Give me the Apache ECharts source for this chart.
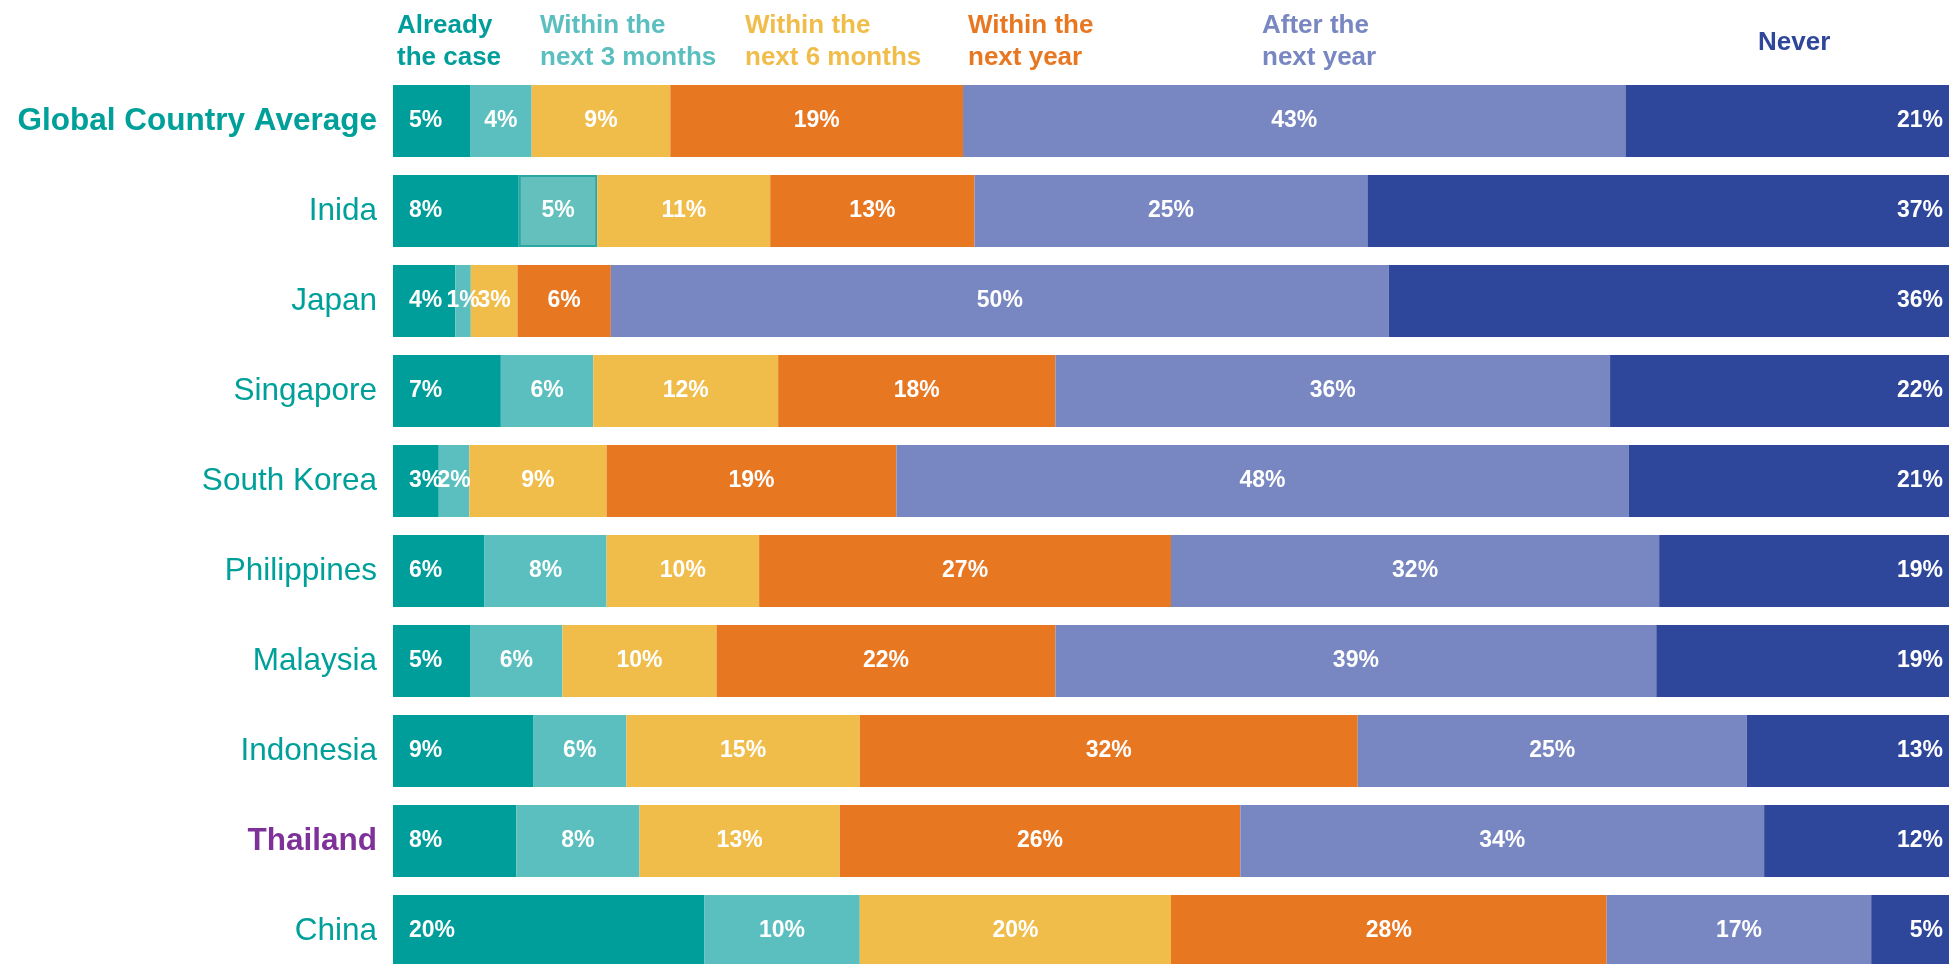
<!DOCTYPE html>
<html>
<head>
<meta charset="utf-8">
<script src="https://cdn.jsdelivr.net/npm/echarts@6/dist/echarts.min.js"></script>
<style>
  html, body { margin: 0; padding: 0; background: #ffffff; }
  #chart { width: 1949px; height: 964px; }
</style>
</head>
<body>
<div id="chart"></div>
<script>
// Survey answers per country, in percent (each row is one country)
const countries = ['Global Country Average', 'Inida', 'Japan', 'Singapore', 'South Korea',
                   'Philippines', 'Malaysia', 'Indonesia', 'Thailand', 'China'];
const seriesNames = ['Already the case', 'Within the next 3 months', 'Within the next 6 months',
                     'Within the next year', 'After the next year', 'Never'];
const headerLabels = ['Already\nthe case', 'Within the\nnext 3 months', 'Within the\nnext 6 months',
                      'Within the\nnext year', 'After the\nnext year', 'Never'];

const alreadyTheCase = [5, 8, 4, 7, 3, 6, 5, 9, 8, 20];
const within3Months  = [4, 5, 1, 6, 2, 8, 6, 6, 8, 10];
const within6Months  = [9, 11, 3, 12, 9, 10, 10, 15, 13, 20];
const withinNextYear = [19, 13, 6, 18, 19, 27, 22, 32, 26, 28];
const afterNextYear  = [43, 25, 50, 36, 48, 32, 39, 25, 34, 17];
const never          = [21, 37, 36, 22, 21, 19, 19, 13, 12, 5];

const values = [alreadyTheCase, within3Months, within6Months, withinNextYear, afterNextYear, never];
const colors = ['#009E9A', '#5BBFBF', '#F0BD4B', '#E87722', '#7887C1', '#2F479B'];
const FONT = '"Liberation Sans", Arial, sans-serif';
const TEAL_TEXT = '#00A09A';

// each row is drawn as a 100% stacked bar
const rowTotals = countries.map((_, i) => values.reduce((sum, arr) => sum + arr[i], 0));

const series = values.map((arr, s) => ({
  name: seriesNames[s],
  type: 'bar',
  stack: 'share',
  barCategoryGap: '20%',
  itemStyle: { color: colors[s] },
  label: {
    show: true,
    position: s === 0 ? 'insideLeft' : (s === values.length - 1 ? 'insideRight' : 'inside'),
    distance: s === 0 ? 16 : 6,
    color: '#ffffff',
    fontWeight: 'bold',
    fontSize: 23,
    fontFamily: FONT,
    formatter: p => arr[p.dataIndex] + '%'
  },
  data: arr.map((v, i) => {
    const item = { value: v / rowTotals[i] * 100 };
    // the India "next 3 months" cell is outlined
    if (s === 1 && countries[i] === 'Inida') {
      item.itemStyle = { color: '#63C0BD', borderColor: '#2CA7A3', borderWidth: 2 };
    }
    return item;
  })
}));

const categoryData = countries.map(name => {
  if (name === 'Global Country Average') return { value: name, textStyle: { fontWeight: 'bold', color: TEAL_TEXT } };
  if (name === 'Thailand') return { value: name, textStyle: { fontWeight: 'bold', color: '#7E3199' } };
  return name;
});

// column headings above the bars
const headerX = [397, 540, 745, 968, 1262, 1758];
const graphics = headerLabels.map((text, k) => ({
  type: 'text',
  left: headerX[k],
  top: text.indexOf('\n') >= 0 ? 10 : 27,
  style: {
    text: text,
    fill: colors[k],
    fontFamily: FONT,
    fontWeight: 'bold',
    fontSize: 26,
    lineHeight: 32
  }
}));

const chart = echarts.init(document.getElementById('chart'), null, { renderer: 'canvas' });
chart.setOption({
  animation: false,
  backgroundColor: '#ffffff',
  grid: { left: 393, right: 0, top: 76, height: 900, containLabel: false, outerBoundsMode: 'none' },
  xAxis: { type: 'value', min: 0, max: 100, show: false },
  yAxis: {
    type: 'category',
    inverse: true,
    data: categoryData,
    axisLine: { show: false },
    axisTick: { show: false },
    splitLine: { show: false },
    axisLabel: { fontSize: 31.5, color: TEAL_TEXT, fontFamily: FONT, margin: 16 }
  },
  graphic: graphics,
  series: series
});
</script>
</body>
</html>
